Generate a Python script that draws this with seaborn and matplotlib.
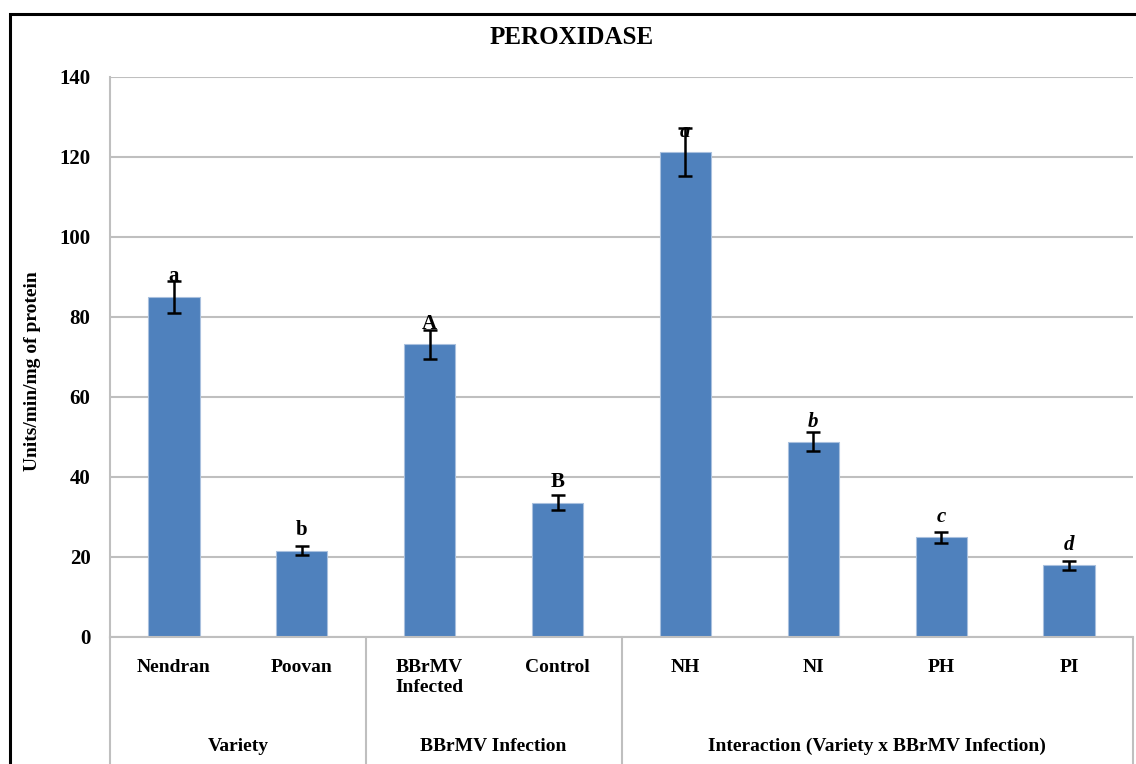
import seaborn as sns
import matplotlib.pyplot as plt
import pandas as pd
from matplotlib.patches import Rectangle

# Peroxidase activity (Units/min/mg of protein)
categories = ["Nendran", "Poovan", "BBrMV\nInfected", "Control", "NH", "NI", "PH", "PI"]
values = [85.1, 21.6, 73.2, 33.6, 121.3, 48.8, 24.9, 17.9]
errors = [4.0, 1.2, 3.6, 1.9, 6.0, 2.4, 1.3, 1.1]
letters = ["a", "b", "A", "B", "a", "b", "c", "d"]
italic_letters = [False, False, False, False, True, True, True, True]
group_names = ["Variety", "BBrMV Infection", "Interaction (Variety x BBrMV Infection)"]
group_sizes = [2, 2, 4]
yticks = [0, 20, 40, 60, 80, 100, 120, 140]

df = pd.DataFrame({"Treatment": categories, "Activity": values})

sns.set_style("whitegrid", {"grid.color": "#BFBFBF", "axes.edgecolor": "#BFBFBF"})
plt.rcParams["font.family"] = ["Liberation Serif", "DejaVu Serif"]
plt.rcParams["font.weight"] = "bold"
for key in ["text.color", "axes.labelcolor", "xtick.color", "ytick.color"]:
    plt.rcParams[key] = "black"

fig = plt.figure(figsize=(11.36, 7.64), dpi=100)
ax = fig.add_axes([110 / 1136, 127 / 764, 1023 / 1136, 560 / 764])

sns.barplot(data=df, x="Treatment", y="Activity", order=categories,
            color="#4F81BD", width=0.4, saturation=1, ax=ax)
for bar in ax.patches:
    bar.set_edgecolor("#A9C0DE")
    bar.set_linewidth(0.8)

xs = list(range(len(categories)))
ax.errorbar(xs, values, yerr=errors, fmt="none", ecolor="black",
            elinewidth=1.8, capsize=5, capthick=1.8, zorder=5)

# significance letters just above each bar
for x, v, lab, it in zip(xs, values, letters, italic_letters):
    ax.annotate(lab, xy=(x, v), xytext=(0, 11), textcoords="offset points",
                ha="center", va="baseline", fontsize=15, fontweight="bold",
                style="italic" if it else "normal", zorder=6)

ax.set_xlim(-0.5, len(categories) - 0.5)
ax.set_ylim(0, 140)
ax.set_yticks(yticks)
ax.grid(axis="y", linewidth=1.5)
ax.grid(axis="x", visible=False)
for side in ["top", "right"]:
    ax.spines[side].set_visible(False)
ax.spines["left"].set_linewidth(1.5)
ax.spines["bottom"].set_linewidth(1.5)

ax.tick_params(axis="y", length=0, pad=14, labelsize=15)
ax.tick_params(axis="x", length=0, pad=16, labelsize=14)
ax.set_xlabel("")
ax.set_ylabel("Units/min/mg of protein", fontsize=14, fontweight="bold")
ax.yaxis.set_label_coords(-0.067, 0.474)

# group separators and group labels under the category labels
xform = ax.get_xaxis_transform()
start = -0.5
bounds = [start]
for name, n in zip(group_names, group_sizes):
    end = start + n
    ax.text((start + end) / 2, -0.195, name, transform=xform, ha="center",
            va="center", fontsize=14, fontweight="bold")
    bounds.append(end)
    start = end
for b in bounds:
    ax.plot([b, b], [0, -0.3], transform=xform, color="#BFBFBF",
            linewidth=1.5, clip_on=False)

fig.text(572 / 1136, 1 - 37 / 764, "PEROXIDASE", ha="center", va="center",
         fontsize=18, fontweight="bold")

# black frame around the chart (extends past the cropped edges)
fig.patches.append(Rectangle((10 / 1136, -0.2), 1.2, 1.2 - 14 / 764,
                             transform=fig.transFigure, fill=False,
                             edgecolor="black", linewidth=2.2))

fig.savefig("out.png", dpi=100)
